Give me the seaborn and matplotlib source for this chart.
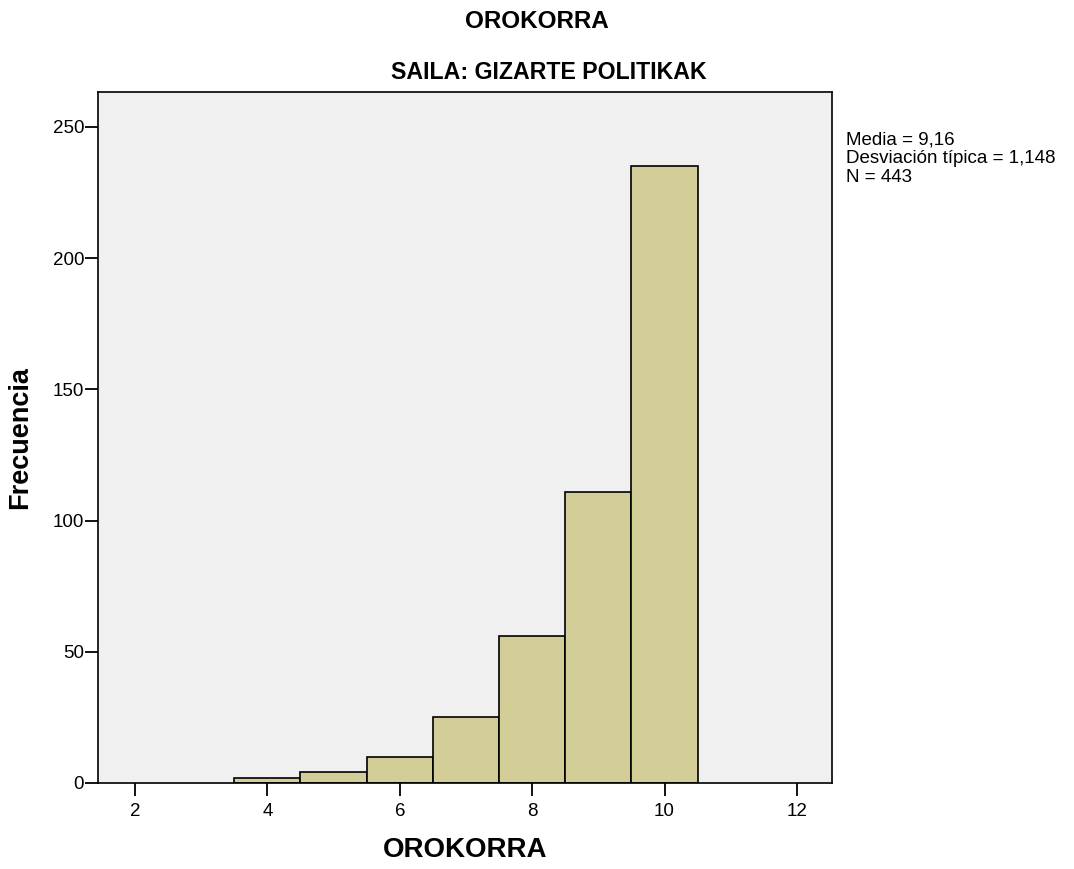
import matplotlib
matplotlib.use("Agg")
import matplotlib.pyplot as plt
import seaborn as sns

# score values and their frequencies
values = [4, 5, 6, 7, 8, 9, 10]
counts = [2, 4, 10, 25, 56, 111, 235]
x_ticks = [2, 4, 6, 8, 10, 12]
y_ticks = [0, 50, 100, 150, 200, 250]
stats_text = "Media = 9,16\nDesviación típica = 1,148\nN = 443"

sns.set_style("ticks")
plt.rcParams["font.family"] = ["Liberation Sans", "DejaVu Sans"]
plt.rcParams["text.color"] = "black"
plt.rcParams["axes.labelcolor"] = "black"
plt.rcParams["xtick.color"] = "black"
plt.rcParams["ytick.color"] = "black"
plt.rcParams["axes.edgecolor"] = "black"

fig = plt.figure(figsize=(10.74, 8.69), dpi=100)
ax = fig.add_axes([0.0912, 0.099, 0.6835, 0.7951])
ax.set_facecolor("#f0f0f0")

sns.histplot(x=values, weights=counts, discrete=True, ax=ax,
             color="#d3ce97", alpha=1, edgecolor="black", linewidth=1.2)

ax.set_xlim(1.44, 12.53)
ax.set_ylim(0, 263.3)
ax.set_xticks(x_ticks)
ax.set_yticks(y_ticks)
ax.tick_params(labelsize=13.5, length=9.5, width=1.3, direction="out")
ax.tick_params(axis="y", pad=0.5)
ax.tick_params(axis="x", pad=5)
for s in ax.spines.values():
    s.set_visible(True)
    s.set_linewidth(1.2)

ax.set_xlabel("OROKORRA", fontsize=20, fontweight="bold", labelpad=12)
ax.set_ylabel("Frecuencia", fontsize=19.5, fontweight="bold", labelpad=14)

fig.text(0.5, 0.975, "OROKORRA", ha="center", va="center",
         fontsize=17.5, fontweight="bold")
fig.text(0.511, 0.916, "SAILA: GIZARTE POLITIKAK", ha="center", va="center",
         fontsize=16.7, fontweight="bold")
fig.text(0.7875, 0.849, stats_text, ha="left", va="top", fontsize=13.5,
         linespacing=1.15)

fig.savefig("out.png", dpi=100)
